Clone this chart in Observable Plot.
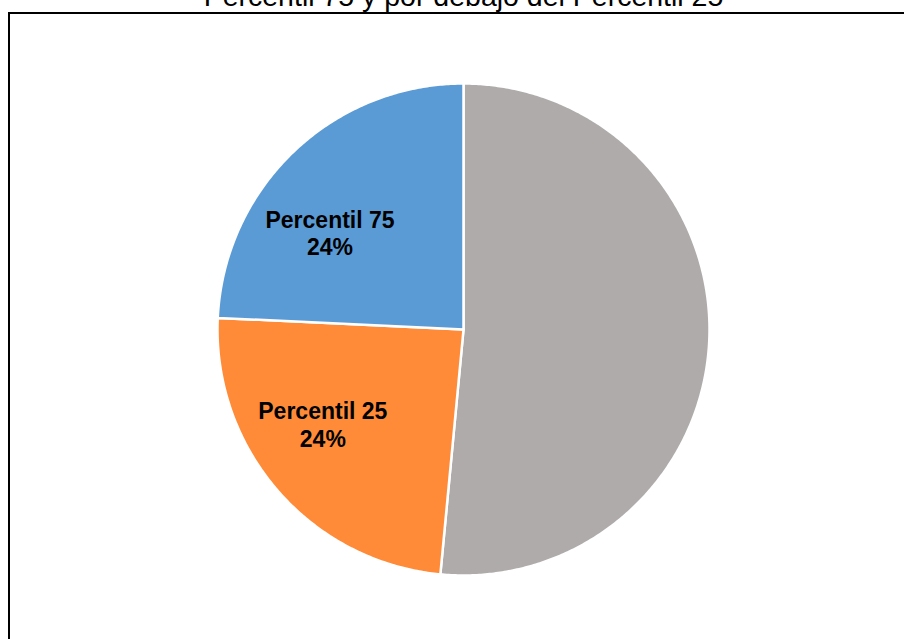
<!DOCTYPE html>
<html><head><meta charset="utf-8">
<script src="https://cdn.jsdelivr.net/npm/d3@7"></script>
<script src="https://cdn.jsdelivr.net/npm/@observablehq/plot@0.6"></script>
<style>
html,body{margin:0;background:#fff;overflow:hidden;}
#wrap{position:relative;width:904px;height:639px;overflow:hidden;}
#chart svg{display:block;}
#border{position:absolute;left:8px;top:12px;width:960px;height:700px;border-left:2px solid #000;border-top:2px solid #000;box-sizing:border-box;pointer-events:none;}
</style>
</head><body><div id="wrap"><div id="chart"></div><div id="border"></div></div>
<script>
const titleText = "Percentil 75 y por debajo del Percentil 25";
const categories = ["Entre Percentil 25 y Percentil 75", "Percentil 25", "Percentil 75"];
const values = [51.5, 24.25, 24.25];
const showLabel = [false, true, true];
const colors = ["#AFABAB", "#FF8B38", "#5B9BD5"];

const total = d3.sum(values);
const arcs = d3.pie().sort(null).value(d => d)(values);

// slice polygons in data units (unit circle), derived from the values
const slicePts = [];
arcs.forEach((a, i) => {
  slicePts.push({x: 0, y: 0, k: categories[i], c: colors[i]});
  const n = Math.max(2, Math.ceil((a.endAngle - a.startAngle) / (Math.PI / 360)));
  for (let j = 0; j <= n; j++) {
    const t = a.startAngle + (a.endAngle - a.startAngle) * j / n;
    slicePts.push({x: Math.sin(t), y: Math.cos(t), k: categories[i], c: colors[i]});
  }
  slicePts.push({x: 0, y: 0, k: categories[i], c: colors[i]});
});

// labels placed inside the slices
const labelData = arcs.map((a, i) => {
  const mid = (a.startAngle + a.endAngle) / 2;
  const t = mid + 0.2 * (1.5 * Math.PI - mid);
  const r = 0.68;
  return {
    x: r * Math.sin(t), y: r * Math.cos(t),
    text: categories[i] + "\n" + Math.round(values[i] / total * 100) + "%",
    show: showLabel[i]
  };
}).filter(d => d.show);

const chart = Plot.plot({
  width: 904,
  height: 639,
  marginLeft: 9,
  marginTop: 13,
  marginRight: 0,
  marginBottom: 0,
  style: {fontFamily: "'Liberation Sans', Arial, sans-serif", background: "#fff"},
  x: {domain: [-1, 1], range: [217, 709], axis: null},
  y: {domain: [-1, 1], range: [575, 83], axis: null},
  color: {type: "identity"},
  marks: [
    Plot.line(slicePts, {x: "x", y: "y", z: "k", fill: "c", stroke: "#fff", strokeWidth: 2.5, strokeLinejoin: "round", curve: "linear"}),
    Plot.text(labelData, {x: "x", y: "y", text: "text", dy: 4, fontSize: 23, fontWeight: "bold", fill: "#000", lineHeight: 1.2, textAnchor: "middle"}),
    Plot.text([titleText], {x: () => 0, frameAnchor: "top", text: d => d, dy: -8, lineAnchor: "bottom", fontSize: 28.5, fill: "#000"})
  ]
});
document.getElementById("chart").appendChild(chart);
</script>
</body></html>
